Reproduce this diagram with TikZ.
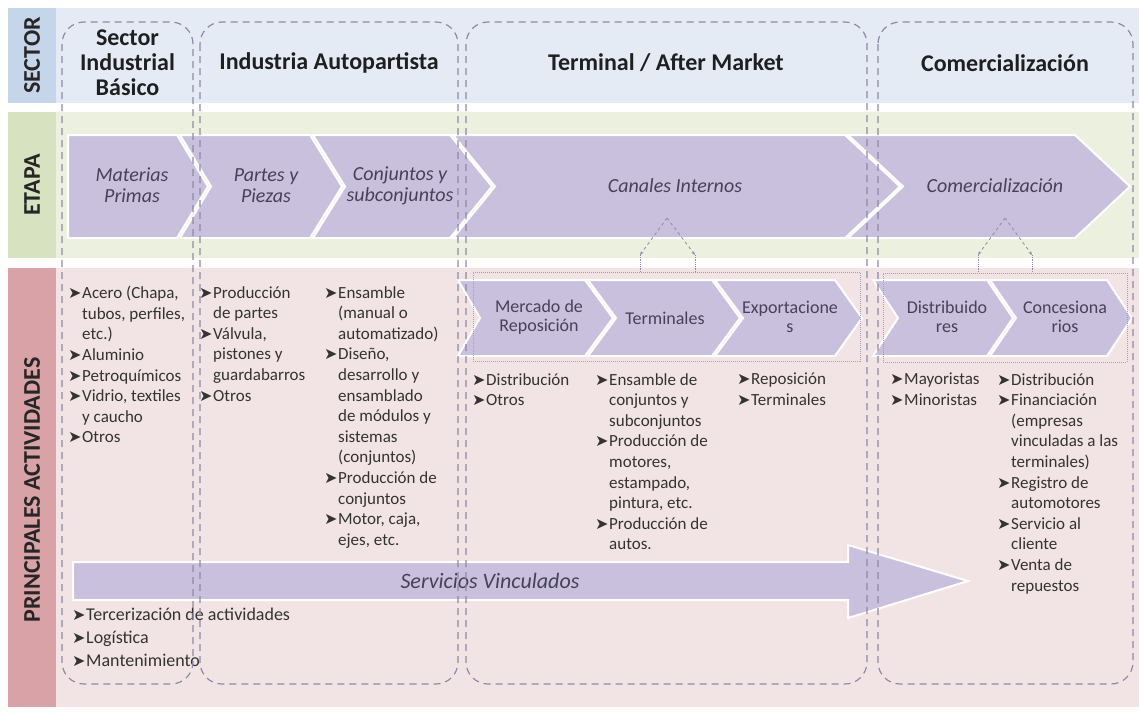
\documentclass[tikz,border=0pt]{standalone}
\usepackage{fontspec}
\setmainfont{Carlito}
\newfontfamily\symf{DejaVu Sans}
\usetikzlibrary{arrows.meta}
\definecolor{sectorlbl}{HTML}{C6D6EA}
\definecolor{sectorbg}{HTML}{E4EBF5}
\definecolor{etapalbl}{HTML}{D6E2C0}
\definecolor{etapabg}{HTML}{EBF0DF}
\definecolor{actlbl}{HTML}{D8A2A6}
\definecolor{actbg}{HTML}{F2E4E4}
\definecolor{chevfill}{HTML}{C8C0DC}
\definecolor{boxline}{HTML}{8E8AA6}
\definecolor{txtgray}{HTML}{46425A}
\newcommand{\itemmark}{\makebox[14pt][l]{\symf\fontsize{16}{16}\selectfont ➤}}
\newcommand{\itemind}{\hspace*{14pt}}
\begin{document}
\begin{tikzpicture}[x=1pt, y=-1pt,
    lbl/.style={rotate=90, font=\fontsize{24}{24}\selectfont\bfseries, text=black!85},
    head/.style={font=\fontsize{24}{25}\selectfont\bfseries, align=center, text=black!88},
    sectorbox/.style={draw=boxline, line width=1.2pt, dash pattern=on 7pt off 5pt, rounded corners=22pt},
    chev/.style={fill=chevfill, draw=white, line width=2pt},
    etapa/.style={font=\fontsize{20}{21}\selectfont\itshape, align=center, text=txtgray},
    canal/.style={font=\fontsize{18}{19}\selectfont, align=center, text=txtgray},
    act/.style={font=\fontsize{17}{20.6}\selectfont, align=left, anchor=north west, inner sep=0pt, text=black!80},
    dotbox/.style={draw=boxline!80, densely dotted, line width=1pt, inner sep=0pt},
    link/.style={draw=boxline, dashed, line width=0.8pt}]
    \useasboundingbox (0,0) rectangle (1139,713);
    % bands
    \fill[sectorbg] (56,8) rectangle (1139,103);
    \fill[sectorlbl] (8,8) rectangle (56,103);
    \fill[etapabg] (56,112) rectangle (1139,258);
    \fill[etapalbl] (8,112) rectangle (56,258);
    \fill[actbg] (56,268) rectangle (1139,707);
    \fill[actlbl] (8,268) rectangle (56,707);
    \node [lbl] (sector) at (32,55.5) {SECTOR};
    \node [lbl] (etapa) at (32,185) {ETAPA};
    \node [lbl] (actividades) at (32,490) {PRINCIPALES ACTIVIDADES};
    % chevrons
    \foreach \xl/\xr/\dl/\dr in {68/208/0/31, 180/342/31/32, 313/492/32/42, 453/900/42/55, 848/1130/55/55}
        \path[chev] (\xl,135) -- ({\xr-\dr},135) -- (\xr,186.5) -- ({\xr-\dr},238) -- (\xl,238) -- ({\xl+\dl},186.5) -- cycle;
    \foreach \xl/\xr/\dl/\dr in {458/613/22/28, 588/740/28/28, 715/862/28/27, 873/1013/25/26, 990/1132/26/25}
        \path[chev] (\xl,280) -- ({\xr-\dr},280) -- (\xr,318) -- ({\xr-\dr},356) -- (\xl,356) -- ({\xl+\dl},318) -- cycle;
    \node [etapa] (materias) at (132,185) {Materias\\Primas};
    \node [etapa] (partes) at (266,186) {Partes y\\Piezas};
    \node [etapa] (conjuntos) at (400,186) {Conjuntos y\\subconjuntos};
    \node [etapa] (canales) at (675,186) {Canales Internos};
    \node [etapa] (comerc) at (995,186) {Comercialización};
    \node [canal] (mercado) at (539,317) {Mercado de\\Reposición};
    \node [canal] (terminales) at (665,318) {Terminales};
    \node [canal] (export) at (790,317) {Exportacione\\s};
    \node [canal] (distrib) at (947,317) {Distribuido\\res};
    \node [canal] (conces) at (1065,317) {Concesiona\\rios};
    % dotted groups and links
    \node [dotbox, minimum width=387pt, minimum height=89pt] (canbox) at (666.5,316.5) {};
    \node [dotbox, minimum width=244pt, minimum height=89pt] (combox) at (1005,317.5) {};
    \coordinate (canapex) at (667,218);
    \coordinate (canL) at (640,255);
    \coordinate (canR) at (695,255);
    \coordinate (comapex) at (1005,218);
    \coordinate (comL) at (978,255);
    \coordinate (comR) at (1032,255);
    \draw [link, -{Stealth[length=4pt]}] (canapex) -- (canL);
    \draw [link, -{Stealth[length=4pt]}] (canapex) -- (canR);
    \draw [link, densely dotted] (canL) -- (canL |- canbox.north);
    \draw [link, densely dotted] (canR) -- (canR |- canbox.north);
    \draw [link, -{Stealth[length=4pt]}] (comapex) -- (comL);
    \draw [link, -{Stealth[length=4pt]}] (comapex) -- (comR);
    \draw [link, densely dotted] (comL) -- (comL |- combox.north);
    \draw [link, densely dotted] (comR) -- (comR |- combox.north);
    % servicios vinculados
    \path[chev] (73,562) -- (848,562) -- (848,545) -- (968,581) -- (848,618) -- (848,600) -- (73,600) -- cycle;
    \node [etapa, font=\fontsize{22}{22}\selectfont\itshape] (servicios) at (490,581) {Servicios Vinculados};
    % activities
    \node [act] (basico) at (68,286) {\itemmark Acero (Chapa,\\\itemind tubos, perfiles,\\\itemind etc.)\\\itemmark Aluminio\\\itemmark Petroquímicos\\\itemmark Vidrio, textiles\\\itemind y caucho\\\itemmark Otros};
    \node [act] (autoA) at (199,286) {\itemmark Producción\\\itemind de partes\\\itemmark Válvula,\\\itemind pistones y\\\itemind guardabarros\\\itemmark Otros};
    \node [act] (autoB) at (324,286) {\itemmark Ensamble\\\itemind (manual o\\\itemind automatizado)\\\itemmark Diseño,\\\itemind desarrollo y\\\itemind ensamblado\\\itemind de módulos y\\\itemind sistemas\\\itemind (conjuntos)\\\itemmark Producción de\\\itemind conjuntos\\\itemmark Motor, caja,\\\itemind ejes, etc.};
    \node [act] (reposA) at (472,373) {\itemmark Distribución\\\itemmark Otros};
    \node [act] (termA) at (595,373) {\itemmark Ensamble de\\\itemind conjuntos y\\\itemind subconjuntos\\\itemmark Producción de\\\itemind motores,\\\itemind estampado,\\\itemind pintura, etc.\\\itemmark Producción de\\\itemind autos.};
    \node [act] (exportA) at (737,373) {\itemmark Reposición\\\itemmark Terminales};
    \node [act] (distA) at (890,373) {\itemmark Mayoristas\\\itemmark Minoristas};
    \node [act] (concA) at (997,373) {\itemmark Distribución\\\itemmark Financiación\\\itemind (empresas\\\itemind vinculadas a las\\\itemind terminales)\\\itemmark Registro de\\\itemind automotores\\\itemmark Servicio al\\\itemind cliente\\\itemmark Venta de\\\itemind repuestos};
    \node [act, font=\fontsize{18}{23}\selectfont] (vinculados) at (72,608) {\itemmark Tercerización de actividades\\\itemmark Logística\\\itemmark Mantenimiento};
    % sectors
    \draw [sectorbox] (62,22) rectangle (193,684);
    \draw [sectorbox] (200,22) rectangle (458,684);
    \draw [sectorbox] (466,22) rectangle (867,684);
    \draw [sectorbox] (878,22) rectangle (1133,684);
    \node [head] (basicoH) at (127.5,63) {Sector\\Industrial\\Básico};
    \node [head] (autoH) at (329,63) {Industria Autopartista};
    \node [head] (terminalH) at (666,63) {Terminal / After Market};
    \node [head] (comercH) at (1005,63) {Comercialización};
\end{tikzpicture}
\end{document}
